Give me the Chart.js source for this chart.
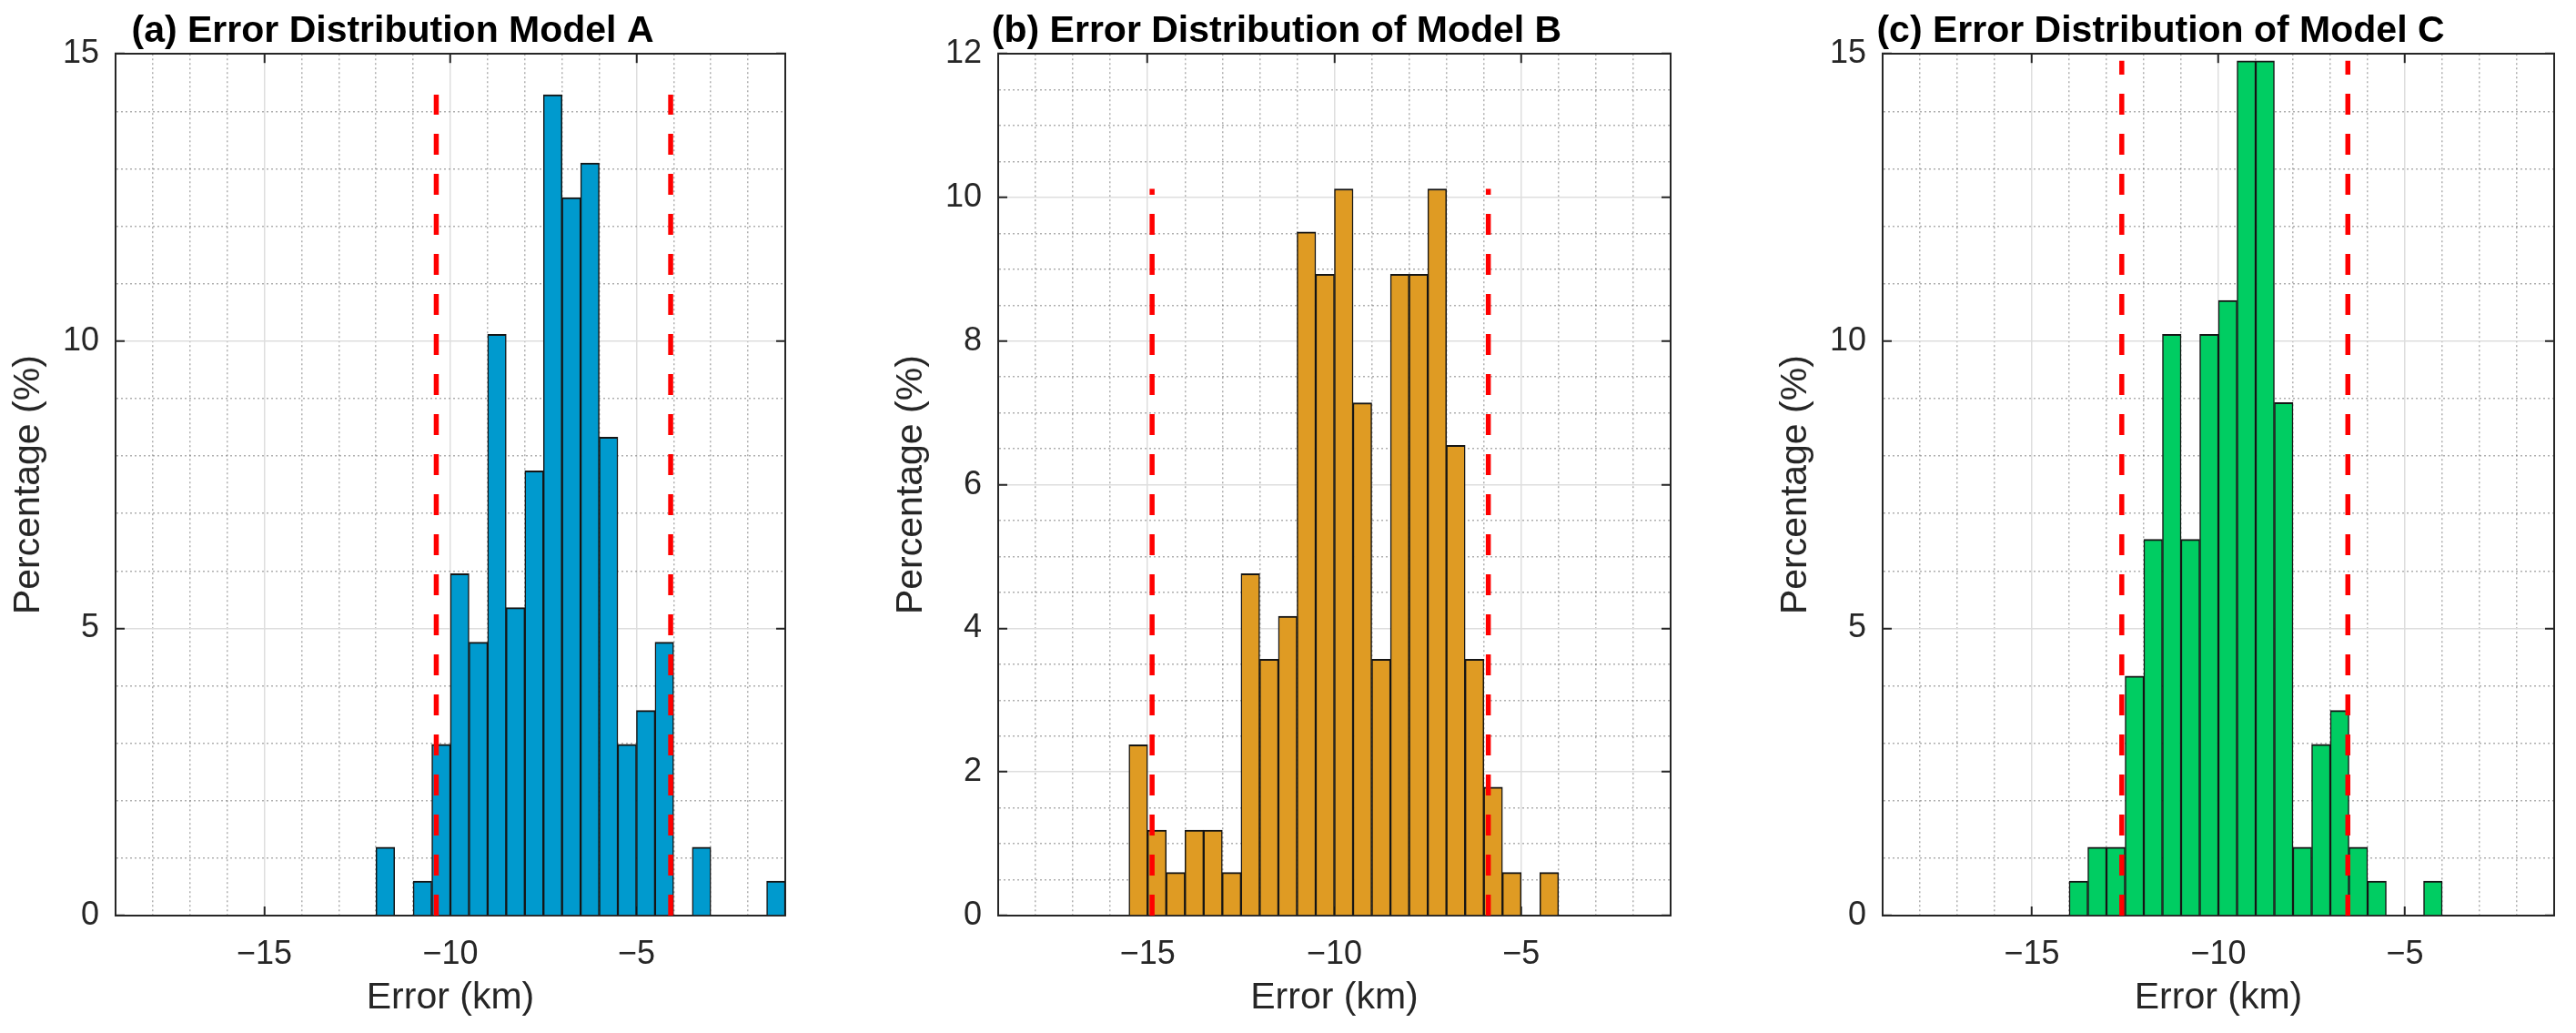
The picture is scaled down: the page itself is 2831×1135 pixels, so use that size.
<!DOCTYPE html>
<html>
<head>
<meta charset="utf-8">
<script src="https://cdn.jsdelivr.net/npm/chart.js@4.4.1/dist/chart.umd.min.js"></script>
<style>
  html, body { margin: 0; padding: 0; background: #fff; overflow: hidden; width: 2831px; height: 1135px; }
  canvas { position: absolute; top: 0; }
</style>
</head>
<body>
<canvas id="histA" width="990" height="1135" style="left:0px"></canvas>
<canvas id="histB" width="993" height="1135" style="left:970px"></canvas>
<canvas id="histC" width="992" height="1135" style="left:1942px"></canvas>
<script>
// bins are 0.5 km wide, listed by left edge; values in percent
const binStartA = [-12, -11.5, -11, -10.5, -10, -9.5, -9, -8.5, -8, -7.5, -7, -6.5, -6, -5.5, -5, -4.5, -4, -3.5, -3, -2.5, -2, -1.5];
const pctA = [1.19, 0, 0.60, 2.98, 5.95, 4.76, 10.12, 5.36, 7.74, 14.29, 12.50, 13.10, 8.33, 2.98, 3.57, 4.76, 0, 1.19, 0, 0, 0, 0.60];
const limitsA = [-10.38, -4.08];

const binStartB = [-15.5, -15, -14.5, -14, -13.5, -13, -12.5, -12, -11.5, -11, -10.5, -10, -9.5, -9, -8.5, -8, -7.5, -7, -6.5, -6, -5.5, -5, -4.5];
const pctB = [2.38, 1.19, 0.60, 1.19, 1.19, 0.60, 4.76, 3.57, 4.17, 9.52, 8.93, 10.12, 7.14, 3.57, 8.93, 8.93, 10.12, 6.55, 3.57, 1.79, 0.60, 0, 0.60];
const limitsB = [-14.88, -5.88];

const binStartC = [-14, -13.5, -13, -12.5, -12, -11.5, -11, -10.5, -10, -9.5, -9, -8.5, -8, -7.5, -7, -6.5, -6, -5.5, -5, -4.5];
const pctC = [0.60, 1.19, 1.19, 4.17, 6.55, 10.12, 6.55, 10.12, 10.71, 14.88, 14.88, 8.93, 1.19, 2.98, 3.57, 1.19, 0.60, 0, 0, 0.60];
const limitsC = [-12.59, -6.53];

const xMajors = [-15, -10, -5];
const yMajors15 = [0, 5, 10, 15];
const yMajors12 = [0, 2, 4, 6, 8, 10, 12];

const BIN = 0.5;
const SIDE = 127;
const AXIS_COLOR = '#262626';
const MAJOR_GRID = 'rgb(222,222,222)';
const MINOR_GRID = 'rgba(110,110,110,0.55)';
const FONT = "'Liberation Sans', Arial, sans-serif";

function minus(v) { return v < 0 ? '\u2212' + Math.abs(v) : String(v); }

function lines(majors, inward) {
  const isMajor = c => c.tick !== undefined && majors.some(m => Math.abs(m - c.tick.value) < 1e-6);
  return {
    grid: {
      drawOnChartArea: !inward,
      offset: false,
      color: c => isMajor(c) ? MAJOR_GRID : MINOR_GRID,
      lineWidth: 1.5,
      tickLength: -10,
      tickWidth: 2,
      tickColor: c => isMajor(c) ? AXIS_COLOR : 'rgba(0,0,0,0)'
    },
    border: { color: AXIS_COLOR, width: 2, dash: c => isMajor(c) ? [] : [2, 3] }
  };
}

function makeHist(id, title, starts, pcts, limits, color, yTop, yStep, yMajors) {
  const bars = starts.map((s, i) => ({ x: s + BIN / 2, y: pcts[i] }));
  const peak = Math.max(...pcts);
  const limitLine = v => ({
    type: 'line',
    data: [{ x: v, y: 0 }, { x: v, y: peak }],
    borderColor: '#ff0000', borderWidth: 5.5, borderDash: [23, 21], borderCapStyle: 'butt',
    pointRadius: 0, fill: false, order: 0
  });

  const xBase = { type: 'linear', min: -19, max: -1, offset: false };
  const yBase = { type: 'linear', min: 0, max: yTop };

  new Chart(document.getElementById(id), {
    type: 'bar',
    data: {
      datasets: [
        { data: bars, backgroundColor: color, borderColor: '#151515',
          borderWidth: { top: 2, left: 1.5, right: 1.5, bottom: 0 },
          barPercentage: 1, categoryPercentage: 1, xAxisID: 'x', yAxisID: 'y', order: 1 },
        limitLine(limits[0]),
        limitLine(limits[1])
      ]
    },
    options: {
      responsive: false, animation: false, devicePixelRatio: 1,
      layout: { padding: { left: 0, right: SIDE } },
      plugins: {
        legend: { display: false },
        tooltip: { enabled: false },
        title: { display: true, text: title, color: '#000', align: 'center', fullSize: true,
          font: { family: FONT, size: 41, weight: 'bold' }, padding: { top: 10, bottom: 0 } }
      },
      scales: {
        x: { ...xBase, ...lines(xMajors, false),
          ticks: { stepSize: 1, autoSkip: false, maxRotation: 0, padding: 31, color: AXIS_COLOR,
            font: { family: FONT, size: 36 }, callback: v => xMajors.includes(v) ? minus(v) : '' },
          title: { display: true, text: 'Error (km)', color: AXIS_COLOR,
            font: { family: FONT, size: 41 }, padding: { top: 0, bottom: 14 } },
          afterFit: s => { s.height = 129; } },
        x2: { ...xBase, position: 'top', ...lines(xMajors, true),
          ticks: { display: false, stepSize: 1, autoSkip: false },
          afterFit: s => { s.height = 0; } },
        y: { ...yBase, ...lines(yMajors, false),
          ticks: { stepSize: yStep, autoSkip: false, padding: 28, color: AXIS_COLOR,
            font: { family: FONT, size: 36 }, callback: v => yMajors.includes(v) ? String(v) : '' },
          title: { display: true, text: 'Percentage (%)', color: AXIS_COLOR,
            font: { family: FONT, size: 41 }, padding: { top: 7, bottom: 0 } },
          afterFit: s => { s.width = SIDE; } },
        y2: { ...yBase, position: 'right', ...lines(yMajors, true),
          ticks: { display: false, stepSize: yStep, autoSkip: false },
          afterFit: s => { s.width = 0; } }
      }
    }
  });
}

makeHist('histA', '(a) Error Distribution Model A', binStartA, pctA, limitsA, 'rgb(0,154,206)', 15, 1, yMajors15);
makeHist('histB', '(b) Error Distribution of Model B', binStartB, pctB, limitsB, 'rgb(223,155,35)', 12, 0.5, yMajors12);
makeHist('histC', '(c) Error Distribution of Model C', binStartC, pctC, limitsC, 'rgb(0,205,98)', 15, 1, yMajors15);
</script>
</body>
</html>
